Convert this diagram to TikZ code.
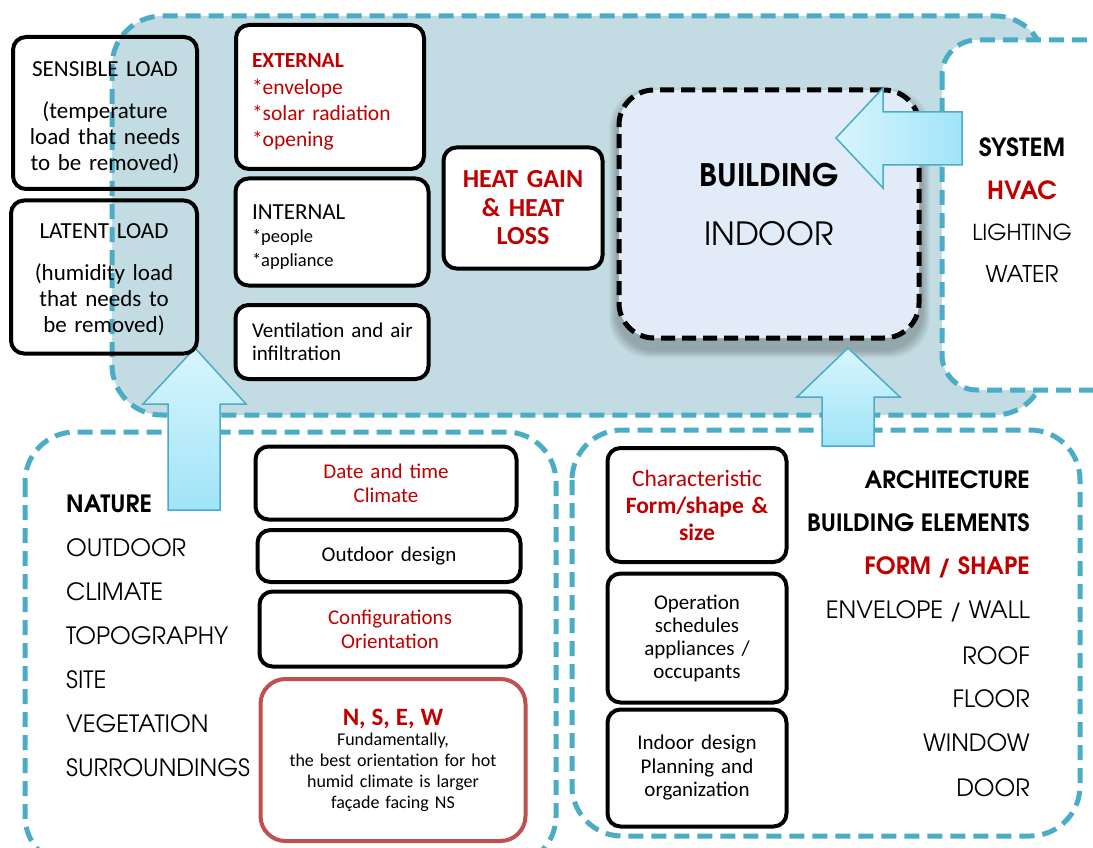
\documentclass[tikz,border=0pt]{standalone}
\usepackage{fontspec}
\setmainfont{Carlito}
\newfontfamily\gothic{texgyreadventor}[Extension=.otf,UprightFont=*-regular,BoldFont=*-bold]
\usetikzlibrary{positioning}

\definecolor{dashteal}{HTML}{4BACC6}
\definecolor{zonefill}{HTML}{C3DCE3}
\definecolor{loadred}{HTML}{C00000}
\definecolor{framered}{HTML}{C0504D}
\definecolor{indoorfill}{HTML}{E1ECF8}
\definecolor{arrowlight}{HTML}{D8F5FD}
\definecolor{arrowdeep}{HTML}{A0E4F8}

\newcommand\padtop[1]{\rule{0pt}{#1}}  % taller first line pushes the text down

\begin{document}
\begin{tikzpicture}[x=1pt, y=-1pt,
    zone/.style={draw=dashteal, line width=5pt, dash pattern=on 15pt off 8pt, rounded corners=50pt},
    loadbox/.style={draw, line width=4pt, rounded corners=13pt, inner sep=0pt, align=center},
    blockarrow/.style={draw=dashteal, line width=1.5pt, line join=miter},
    boxtext/.style={font=\fontsize{23}{26}\selectfont},
    smalltext/.style={font=\fontsize{21}{24}\selectfont},
    gothlist/.style={font=\gothic\fontsize{23.8}{26}\selectfont, inner sep=0pt},
    gothhead/.style={font=\gothic\bfseries\fontsize{23.8}{26}\selectfont, inner sep=0pt}]

  \useasboundingbox (0,0) rectangle (1093,848);  % page frame
  \fill[white] (0,0) rectangle (1093,848);
  \clip (0,0) rectangle (1093,848);

  % zones
  \draw[zone, fill=zonefill] (112,16) rectangle (1045,415);  % heat load zone
  \draw[zone, fill=white, rounded corners=35pt] (942,40) rectangle (1130,390);  % system zone
  \draw[zone] (25,432) rectangle (556,866);  % nature zone
  \draw[zone] (572,430) rectangle (1080,836);  % architecture zone

  % building with a soft shadow
  \foreach \s in {1,...,8}
    \fill[black, opacity=0.03, rounded corners=40pt] ({617-\s},{96-\s}) rectangle ({922+\s},{350+\s});
  \node[draw, line width=5pt, dash pattern=on 14pt off 7pt, rounded corners=35pt, fill=indoorfill,
        minimum width=300, minimum height=248] (building) at (769,214) {};
  \node[gothhead, font=\gothic\bfseries\fontsize{31}{34}\selectfont] (bname) at ([yshift=39pt]building.center) {BUILDING};
  \node[gothlist, font=\gothic\fontsize{32}{34}\selectfont] (bindoor) at ([yshift=-20pt]building.center) {INDOOR};

  % block arrows
  \draw[blockarrow, top color=arrowlight, bottom color=arrowdeep]
    (195,348) -- (246,404) -- (220,404) -- (220,510) -- (168,510) -- (168,404) -- (143,404) -- cycle;  % nature up
  \draw[blockarrow, top color=arrowlight, bottom color=arrowdeep]
    (848,348) -- (900,397) -- (874,397) -- (874,446) -- (822,446) -- (822,397) -- (797,397) -- cycle;  % architecture up
  \draw[blockarrow, left color=arrowlight, right color=arrowdeep]
    (836,138) -- (883,88) -- (883,112) -- (962,112) -- (962,165) -- (883,165) -- (883,188) -- cycle;  % system left

  % cooling loads
  \node[loadbox, boxtext, minimum width=184, minimum height=152, text width=176] (sensible) at (105,113)
    {\padtop{25pt}SENSIBLE LOAD\\[16pt](temperature\\load that needs\\to be removed)};
  \node[loadbox, boxtext, minimum width=186, minimum height=153, text width=176] (latent) at (104,277)
    {\padtop{20pt}LATENT LOAD\\[16pt](humidity load\\that needs to\\be removed)};

  % heat sources
  \node[loadbox, fill=white, font=\fontsize{21.5}{26.3}\selectfont, minimum width=188, minimum height=144,
        text width=156, align=left, text=loadred] (external) at (330,97)
    {\padtop{24pt}{\bfseries EXTERNAL}\\{*}envelope\\{*}solar radiation\\{*}opening};
  \node[loadbox, fill=white, minimum width=193, minimum height=107, text width=160, align=left,
        font=\fontsize{18.5}{23.5}\selectfont] (internal) at (332,232)
    {\padtop{24pt}{\fontsize{23}{23}\selectfont INTERNAL}\\{*}people\\{*}appliance};
  \node[loadbox, fill=white, minimum width=193, minimum height=74, text width=160, align=left,
        font=\fontsize{21}{23}\selectfont] (ventilation) at (332,342)
    {\mbox{Ventilation and air}\\infiltration};
  \node[loadbox, fill=white, minimum width=159, minimum height=121, text width=150, text=loadred,
        font=\bfseries\fontsize{26}{28.5}\selectfont] (heatgain) at (523,208)
    {HEAT GAIN\\\& HEAT\\LOSS};

  % system list
  \node[gothhead, font=\gothic\bfseries\fontsize{25}{26}\selectfont] (system) at (1022,147) {SYSTEM};
  \node[gothhead, font=\gothic\bfseries\fontsize{25}{26}\selectfont, text=loadred] (hvac) at (1022,190) {HVAC};
  \node[gothlist, font=\gothic\fontsize{22}{26}\selectfont] (lighting) at (1022,232) {LIGHTING};
  \node[gothlist, font=\gothic\fontsize{23}{26}\selectfont] (water) at (1022,274) {WATER};

  % nature list
  \node[gothhead, anchor=west] (nature) at (66,504) {NATURE};
  \foreach \w [count=\i] in {OUTDOOR, CLIMATE, TOPOGRAPHY, SITE, VEGETATION, SURROUNDINGS}
    \node[gothlist, anchor=west] (nat\i) at (66,{504+44*\i}) {\w};

  % site boxes
  \node[loadbox, fill=white, smalltext, minimum width=261, minimum height=73, text width=250, text=loadred]
    (datetime) at (386,483) {Date and time\\Climate};
  \node[loadbox, fill=white, smalltext, minimum width=263, minimum height=52, text width=250]
    (outdoor) at (389,556) {Outdoor design};
  \node[loadbox, fill=white, smalltext, minimum width=261, minimum height=75, text width=250, text=loadred]
    (config) at (390,629) {Configurations\\Orientation};
  \node[loadbox, draw=framered, rounded corners=25pt, fill=white, minimum width=265, minimum height=162,
        text width=255, font=\fontsize{18}{21}\selectfont] (orient) at (393,760)
    {{\color{loadred}\bfseries\fontsize{25}{25}\selectfont N, S, E, W}\\[-1pt]Fundamentally,\\the best orientation for hot\\humid climate is larger\\façade facing NS};

  % design boxes
  \node[loadbox, fill=white, minimum width=179, minimum height=114, text width=175, text=loadred,
        font=\fontsize{23.5}{27}\selectfont] (form) at (697,505)
    {Characteristic\\{\bfseries Form/shape \&}\\{\bfseries size}};
  \node[loadbox, fill=white, minimum width=179, minimum height=129, text width=175,
        font=\fontsize{21}{23}\selectfont] (schedule) at (697,638)
    {Operation\\schedules\\appliances /\\occupants};
  \node[loadbox, fill=white, minimum width=179, minimum height=117, text width=175,
        font=\fontsize{21}{23.5}\selectfont] (planning) at (697,768)
    {Indoor design\\Planning and\\organization};

  % architecture list
  \node[gothhead, anchor=east] (arch) at (1030,480) {ARCHITECTURE};
  \node[gothhead, anchor=east] (elements) at (1030,523) {BUILDING ELEMENTS};
  \node[gothhead, anchor=east, text=loadred] (shape) at (1030,567) {FORM / SHAPE};
  \foreach \w/\y in {{ENVELOPE / WALL}/611, ROOF/656, FLOOR/699, WINDOW/743, DOOR/788}
    \node[gothlist, anchor=east] at (1030,\y) {\w};
\end{tikzpicture}
\end{document}
